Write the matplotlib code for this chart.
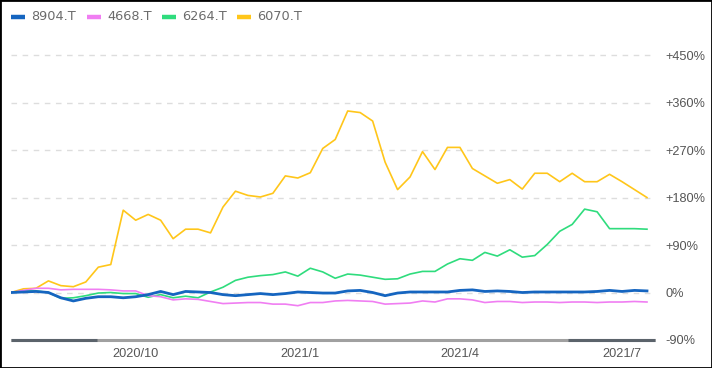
import matplotlib
matplotlib.use("Agg")
import matplotlib.pyplot as plt
import pandas as pd
from matplotlib.lines import Line2D
from matplotlib.patches import Rectangle

dates = pd.date_range("2020-07-23", periods=52, freq="7D")

s8904 = [0, 1, 2, 0, -10, -16, -11, -8, -8, -10, -8, -4, 2, -4, 2, 1, 0, -4, -6, -4,
         -2, -4, -2, 1, 0, -1, -1, 3, 4, 0, -6, -1, 1, 1, 1, 1, 4, 5, 2, 3,
         2, 0, 1, 1, 1, 1, 1, 2, 4, 2, 4, 3]
s4668 = [0, 4, 8, 8, 5, 6, 6, 6, 5, 3, 3, -6, -8, -14, -12, -13, -17, -21, -20, -19,
         -19, -22, -22, -25, -19, -19, -16, -15, -16, -17, -22, -21, -20, -16, -18, -12, -12, -14, -19, -17,
         -17, -19, -18, -18, -19, -18, -18, -19, -18, -18, -17, -18]
s6264 = [0, 3, 3, 0, -11, -10, -6, -1, 0, -2, -2, -9, -4, -10, -7, -10, 1, 10, 23, 29,
         32, 34, 39, 31, 46, 39, 27, 35, 33, 29, 25, 26, 35, 40, 40, 54, 64, 61, 76, 69,
         81, 67, 70, 91, 116, 129, 158, 153, 121, 121, 121, 120]
s6070 = [0, 7, 8, 22, 13, 11, 20, 48, 53, 156, 137, 148, 137, 102, 120, 120, 113, 162, 192, 184,
         181, 188, 221, 217, 227, 273, 290, 344, 341, 325, 247, 195, 219, 267, 233, 275, 275, 235, 221, 207,
         214, 196, 226, 226, 210, 226, 210, 210, 224, 210, 195, 180]

names = ["8904.T", "4668.T", "6264.T", "6070.T"]
colors = ["#1565c0", "#f07ef2", "#2fdc7d", "#ffc61a"]
widths = [2.0, 1.2, 1.2, 1.2]
series = [s8904, s4668, s6264, s6070]

yticks = [-90, 0, 90, 180, 270, 360, 450]
ytick_labels = ["-90%", "0%", "+90%", "+180%", "+270%", "+360%", "+450%"]
xtick_dates = ["2020-10-01", "2021-01-01", "2021-04-01", "2021-07-01"]
xtick_labels = ["2020/10", "2021/1", "2021/4", "2021/7"]

fig = plt.figure(figsize=(7.12, 3.68), dpi=100)
ax = fig.add_axes([11/712, 28/368, 644/712, (340-44.5)/368])

for y in yticks[1:]:
    ax.axhline(y, color="#dddddd", lw=1, ls=(0, (4, 4)), zorder=0)

order = [3, 2, 1, 0]
for k in order:
    ax.plot(dates, series[k], color=colors[k], lw=widths[k], zorder=3 + (k == 0))

ax.set_ylim(-90, 470)
ax.set_xlim(dates[0], dates[-1] + pd.Timedelta(days=4.5))
for sp in ax.spines.values():
    sp.set_visible(False)

# bottom navigator-like line
ax.plot([0, 1], [0, 0], transform=ax.transAxes, color="#a0a0a0", lw=2.2, clip_on=False, zorder=5, solid_capstyle="butt")
ax.plot([0, 86/644], [0, 0], transform=ax.transAxes, color="#5b636b", lw=2.2, clip_on=False, zorder=6, solid_capstyle="butt")
ax.plot([557/644, 1], [0, 0], transform=ax.transAxes, color="#5b636b", lw=2.2, clip_on=False, zorder=6, solid_capstyle="butt")

ax.yaxis.tick_right()
ax.set_yticks(yticks)
ax.set_yticklabels(ytick_labels)
ax.set_xticks(pd.to_datetime(xtick_dates))
ax.set_xticklabels(xtick_labels)
ax.tick_params(axis="y", length=0, pad=7.5, labelsize=9.2, labelcolor="#555555")
ax.tick_params(axis="x", length=0, pad=6, labelsize=9.2, labelcolor="#555555")
for lab in ax.get_xticklabels() + ax.get_yticklabels():
    lab.set_family("Liberation Sans")

# legend
hx = [11, 87, 162, 237]
for k in range(4):
    x0 = hx[k] / 712
    fig.add_artist(Line2D([x0, x0 + 14/712], [1 - 17/368, 1 - 17/368], color=colors[k], lw=3.2,
                          solid_capstyle="butt"))
    fig.text(x0 + 20/712, 1 - 17/368, names[k], va="center", ha="left", fontsize=9.3,
             color="#6b6b6b", family="DejaVu Sans")

fig.add_artist(Rectangle((0, 0), 1, 1, transform=fig.transFigure, fill=False, edgecolor="black", lw=2))

fig.savefig("out.png", dpi=100)
